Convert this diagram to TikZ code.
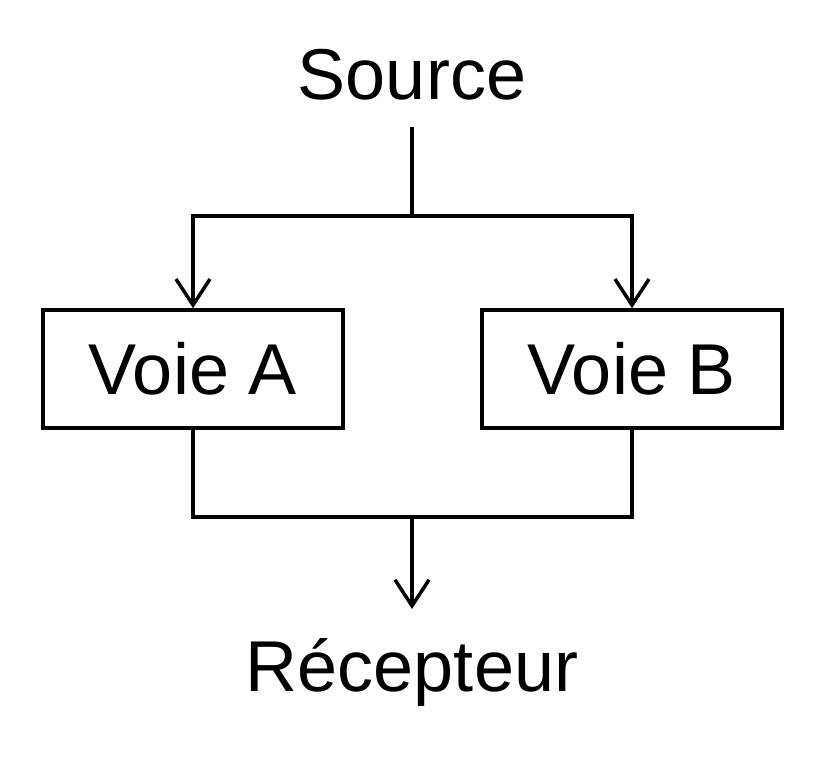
\documentclass[tikz,border=0pt]{standalone}
\usepackage{fontspec}
\setmainfont{Liberation Sans}
\usetikzlibrary{arrows.meta}
\begin{document}
\begin{tikzpicture}[x=1pt,y=-1pt,
  lbl/.style={inner sep=0pt,font=\fontsize{72}{80}\selectfont},
  boxnode/.style={draw,line width=3.5pt,minimum width=300pt,minimum height=118pt,inner sep=0pt,font=\fontsize{72}{80}\selectfont},
  conn/.style={line width=3.5pt},
  arr/.style={line width=3.5pt,-{Straight Barb[length=26pt,width=34pt,line width=3.5pt]}}]
\useasboundingbox (0,0) rectangle (826,762);
\node[lbl] (src) at (412,75) {Source};
\node[boxnode] (A) at (193,369) {Voie A};
\node[boxnode] (B) at (632,369) {Voie B};
\node[lbl] (rec) at (412,672) {Récepteur};
\coordinate (s0) at (412,127);
\coordinate (s1) at (412,216);
\coordinate (j1) at (412,517);
\coordinate (rt) at (412,609);
\draw[conn] (s0) -- (s1);
\draw[arr] (s1) -| (A.north);
\draw[arr] (s1) -| (B.north);
\draw[conn] (A.south) |- (j1) -| (B.south);
\draw[arr] (j1) -- (rt);
\end{tikzpicture}
\end{document}
